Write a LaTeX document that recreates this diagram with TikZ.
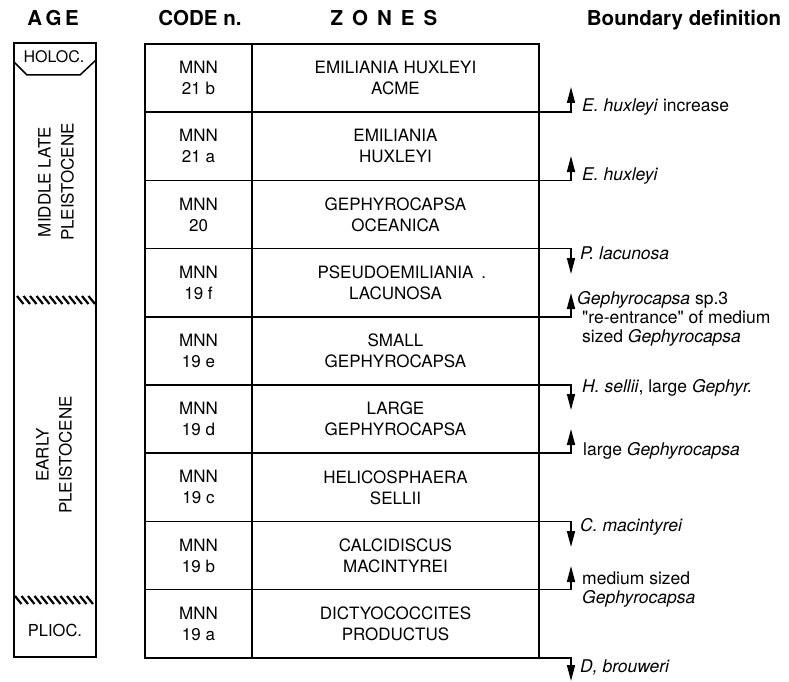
\documentclass[tikz,border=0pt]{standalone}
\usepackage{fontspec}
\setmainfont{TeX Gyre Heros}[Ligatures=TeXOff]
\usetikzlibrary{positioning, arrows.meta}
\newcommand{\tabfont}{\fontsize{17}{21}\selectfont}
\newcommand{\bdfont}{\fontsize{17.5}{19}\selectfont}
\newcommand{\headfont}{\fontsize{20.5}{23}\selectfont\bfseries}
\tikzset{
	cell/.style={draw, line width=1.5pt, outer sep=0pt, inner sep=0pt, align=center, font=\tabfont},
	codecell/.style={cell, minimum width=107pt, minimum height=68.2pt},
	zonecell/.style={cell, minimum width=287pt, minimum height=68.2pt},
	bound/.style={line width=1.6pt, -{Triangle[length=16pt, width=8pt]}},
	bdef/.style={anchor=west, align=left, inner sep=0pt, font=\bdfont},
	head/.style={anchor=base, inner sep=0pt, font=\headfont},
	agetext/.style={rotate=90, align=center, inner sep=0pt, font=\fontsize{17}{23}\selectfont},
	unconf/.style={line width=2.2pt}
}

\begin{document}
\begin{tikzpicture}[x=1pt, y=-1pt]
		\useasboundingbox (0,0) rectangle (789,682);
		
		% headers
		\node[head] (hage) at (53,26) {A\hspace{3.5pt}G\hspace{3.5pt}E};
		\node[head] (hcode) at (200,26) {CODE n.};
		\node[head] (hzones) at (384,26) {Z\hspace{9pt}O\hspace{9pt}N\hspace{9pt}E\hspace{9pt}S};
		\node[head] (hbound) at (684,26) {Boundary definition};
		
		% age column
		\node[draw, line width=1.5pt, outer sep=0pt, minimum width=82pt, minimum height=614pt] (agecol) at (55,350) {};
		\draw[line width=1.5pt] (14,62) -- (27,75) -- (80,75) -- (96,60);
		\node[inner sep=0pt, font=\fontsize{16}{18}\selectfont] (holoc) at (54,57) {HOLOC.};
		\node[agetext] (mlp) at (56,182) {MIDDLE LATE\\PLEISTOCENE};
		\node[agetext] (ep) at (54,455) {EARLY\\PLEISTOCENE};
		\node[inner sep=0pt, font=\fontsize{16.5}{18}\selectfont] (plioc) at (55,630) {PLIOC.};
		\foreach \x in {17,23.5,...,89} {
			\draw[unconf] (\x,296) -- ++(6.5,8);
			\draw[unconf] (\x-2,596) -- ++(6.5,8);
		}
		
		% zones table
		\node[codecell] (c1) at (198.5,78.1) {MNN\\21 b};
		\node[zonecell, right=0pt of c1] (z1) {EMILIANIA HUXLEYI\\ACME};
		\node[codecell, below=0pt of c1] (c2) {MNN\\21 a};
		\node[zonecell, right=0pt of c2] (z2) {EMILIANIA\\HUXLEYI};
		\node[codecell, below=0pt of c2] (c3) {MNN\\20};
		\node[zonecell, right=0pt of c3] (z3) {GEPHYROCAPSA\\OCEANICA};
		\node[codecell, below=0pt of c3] (c4) {MNN\\19 f};
		\node[zonecell, right=0pt of c4] (z4) {PSEUDOEMILIANIA\rlap{\hspace{8pt}.}\\LACUNOSA};
		\node[codecell, below=0pt of c4] (c5) {MNN\\19 e};
		\node[zonecell, right=0pt of c5] (z5) {SMALL\\GEPHYROCAPSA};
		\node[codecell, below=0pt of c5] (c6) {MNN\\19 d};
		\node[zonecell, right=0pt of c6] (z6) {LARGE\\GEPHYROCAPSA};
		\node[codecell, below=0pt of c6] (c7) {MNN\\19 c};
		\node[zonecell, right=0pt of c7] (z7) {HELICOSPHAERA\\SELLII};
		\node[codecell, below=0pt of c7] (c8) {MNN\\19 b};
		\node[zonecell, right=0pt of c8] (z8) {CALCIDISCUS\\MACINTYREI};
		\node[codecell, below=0pt of c8] (c9) {MNN\\19 a};
		\node[zonecell, right=0pt of c9] (z9) {DICTYOCOCCITES\\PRODUCTUS};
		
		% boundary events
		\coordinate (t1) at (571,87);
		\coordinate (t2) at (571,156);
		\coordinate (t3) at (571,274);
		\coordinate (t4) at (571,293);
		\coordinate (t5) at (571,410);
		\coordinate (t6) at (571,429);
		\coordinate (t7) at (571,547);
		\coordinate (t8) at (571,566);
		\coordinate (t9) at (571,681);
		\draw[bound] (z1.south east) -| (t1);
		\draw[bound] (z2.south east) -| (t2);
		\draw[bound] (z3.south east) -| (t3);
		\draw[bound] (z4.south east) -| (t4);
		\draw[bound] (z5.south east) -| (t5);
		\draw[bound] (z6.south east) -| (t6);
		\draw[bound] (z7.south east) -| (t7);
		\draw[bound] (z8.south east) -| (t8);
		\draw[bound] (z9.south east) -| (t9);
		
		\node[bdef] (b1) at (582,107) {\textit{E. huxleyi} increase};
		\node[bdef] (b2) at (582,176) {\textit{E. huxleyi}};
		\node[bdef] (b3) at (580,253) {\textit{P. lacunosa}};
		\node[bdef] (b4) at (582,319) {\hspace*{-5pt}\textit{Gephyrocapsa} sp.3\\"re-entrance" of medium\\sized \textit{Gephyrocapsa}};
		\node[bdef] (b5) at (582,388) {\textit{H. sellii}, large \textit{Gephyr.}};
		\node[bdef] (b6) at (583,451) {large \textit{Gephyrocapsa}};
		\node[bdef] (b7) at (580,527) {\textit{C. macintyrei}};
		\node[bdef] (b8) at (582,590) {medium sized\\\textit{Gephyrocapsa}};
		\node[bdef] (b9) at (580,667) {\textit{D, brouweri}};
	\end{tikzpicture}
\end{document}
